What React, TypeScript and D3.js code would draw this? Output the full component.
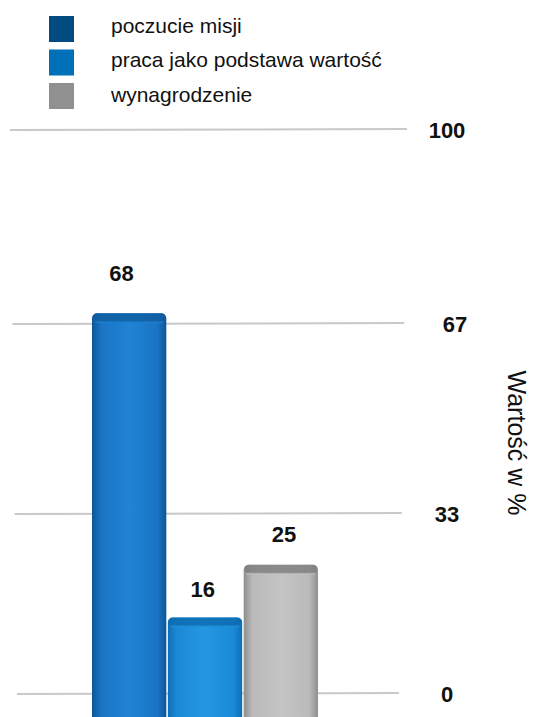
import React from "react";
import * as d3 from "d3";

const categories = ["poczucie misji", "praca jako podstawa wartość", "wynagrodzenie"];
const values = [68, 16, 25];
const tickValues = [0, 33.33, 66.67, 100];
const tickLabels = ["0", "33", "67", "100"];
const legendColors = ["#004b7f", "#0070b8", "#909090"];
const barColors = [
  { dark: "#0d5596", mid: "#1a74c4", light: "#2083d4", cap: "#0f5c9e" },
  { dark: "#0f6db5", mid: "#1a8ad8", light: "#2596e0", cap: "#0c6aae" },
  { dark: "#8f8f8f", mid: "#bababa", light: "#c4c4c4", cap: "#7c7c7c" },
];

const W = 539;
const H = 717;

export default function App() {
  const x = d3.scaleBand<string>().domain(categories).range([92, 318]).paddingInner(0.02);
  const xLabel = d3.scalePoint<string>().domain(categories).range([121.5, 284]);
  const yBar = d3.scaleLinear().domain([0, 100]).range([711, 126]);
  const yLabel = d3.scaleLinear().domain([0, 100]).range([694, 86]);
  const yGrid = d3.scalePow().exponent(1.04).domain([0, 100]).range([693, 129]);
  const font = "Arial, 'Liberation Sans', sans-serif";

  return (
    <svg width={W} height={H} style={{ position: "absolute", left: 0, top: 0, background: "#fff" }}>
      <defs>
        {barColors.map((c, i) => (
          <linearGradient key={i} id={`g${i}`} x1="0" x2="1" y1="0" y2="0">
            <stop offset="0" stopColor={c.dark} />
            <stop offset="0.12" stopColor={c.mid} />
            <stop offset="0.5" stopColor={c.light} />
            <stop offset="0.88" stopColor={c.mid} />
            <stop offset="1" stopColor={c.dark} />
          </linearGradient>
        ))}
      </defs>

      {/* gridlines */}
      {tickValues.map((t, i) => {
        const k = t / 100;
        const y = yGrid(t);
        return (
          <g key={t}>
            <line x1={17 - k * 7} x2={399 + k * 8} y1={y + 1} y2={y} stroke="#c9c9c9" strokeWidth={2} />
            <text
              x={447 + (i === 2 ? 8 : 0)}
              y={y + 9}
              textAnchor="middle"
              fontFamily={font}
              fontWeight="bold"
              fontSize={22}
              fill="#111"
            >
              {tickLabels[i]}
            </text>
          </g>
        );
      })}

      {/* bars */}
      {categories.map((cat, i) => {
        const bx = x(cat)!;
        const bw = x.bandwidth();
        const top = yBar(values[i]);
        const c = barColors[i];
        return (
          <g key={cat}>
            <rect x={bx} y={top} width={bw} height={H - top + 10} rx={5} fill={`url(#g${i})`} />
            <rect x={bx + 1} y={top} width={bw - 2} height={9} rx={4.5} fill={c.cap} opacity={0.8} />
            <rect x={bx + 3} y={top + 8} width={bw - 6} height={2} fill={c.light} opacity={0.6} />
            <text
              x={xLabel(cat)!}
              y={yLabel(values[i])}
              textAnchor="middle"
              fontFamily={font}
              fontWeight="bold"
              fontSize={22}
              fill="#111"
            >
              {values[i]}
            </text>
          </g>
        );
      })}

      {/* legend */}
      {categories.map((cat, i) => (
        <g key={cat} transform={`translate(49, ${16 + i * 33.5})`}>
          <rect x={0} y={0} width={25} height={26} fill={legendColors[i]} />
          <text x={62} y={17 + (i === 2 ? 2 : 0)} fontFamily={font} fontSize={21} fill="#111">
            {cat}
          </text>
        </g>
      ))}

      {/* axis title */}
      <text
        transform={`translate(508, 443) rotate(90)`}
        textAnchor="middle"
        fontFamily={font}
        fontSize={25}
        fill="#111"
      >
        Wartość w %
      </text>
    </svg>
  );
}
